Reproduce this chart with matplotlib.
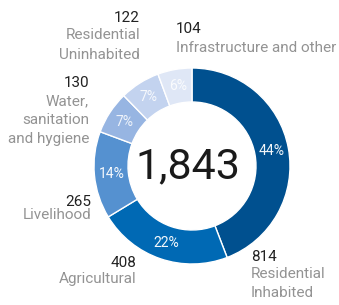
import matplotlib
matplotlib.use("Agg")
import matplotlib.pyplot as plt
import numpy as np

categories = ["Residential\nInhabited", "Agricultural", "Livelihood",
              "Water,\nsanitation\nand hygiene", "Residential\nUninhabited",
              "Infrastructure and other"]
values = [814, 408, 265, 130, 122, 104]
pct_labels = ["44%", "22%", "14%", "7%", "7%", "6%"]
total_label = "1,843"
colors = ["#00508F", "#0069B4", "#5591D0", "#97B5E2", "#C3D3EF", "#DFE7F6"]

W, H = 339, 305
fig = plt.figure(figsize=(W / 100, H / 100), dpi=100)
ax = fig.add_axes([0, 0, 1, 1])
ax.set_aspect("equal")
ax.axis("off")

FONT = "Roboto"
cx, cy, R = 192, H - 166, 98
wedges, _ = ax.pie(values, startangle=90, counterclock=False, colors=colors,
                   center=(cx, cy), radius=R,
                   wedgeprops=dict(width=34, edgecolor="white", linewidth=1))
ax.set_xlim(0, W)
ax.set_ylim(0, H)

for v, p, w in zip(values, pct_labels, wedges):
    ang = np.deg2rad((w.theta1 + w.theta2) / 2)
    r = 81
    ax.text(cx + r * np.cos(ang), cy + r * np.sin(ang), p, ha="center", va="center",
            color="white", alpha=0.95 if v > 200 else 0.85, fontsize=10,
            family=FONT)

ax.text(188, H - 178, total_label, ha="center", va="baseline", fontsize=31,
        family=FONT, color="#1a1a1a")

num_color = "#222222"
cat_color = "#939393"
fs = 11
# (x, number baseline, align, [category line baselines])
layout = [
    (251, 261, "left", [278, 297]),
    (136, 267, "right", [283]),
    (91, 206, "right", [219]),
    (89, 87, "right", [105, 124, 143]),
    (140, 22, "right", [39, 59]),
    (176, 33, "left", [52]),
]
for v, cat, (x, ny, ha, lines) in zip(values, categories, layout):
    ax.text(x, H - ny, str(v), ha=ha, va="baseline", fontsize=fs, family=FONT,
            color=num_color)
    for line, ly in zip(cat.split("\n"), lines):
        ax.text(x, H - ly, line, ha=ha, va="baseline", fontsize=fs, family=FONT,
                color=cat_color)

fig.savefig("out.png", dpi=100)
